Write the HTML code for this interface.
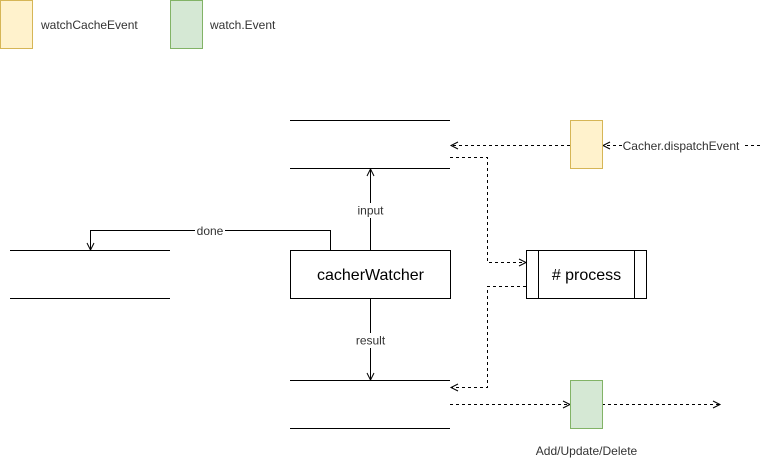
<!DOCTYPE html>
<html><head><meta charset="utf-8"><style>
html,body{margin:0;padding:0;background:#fff;}
svg{display:block;font-family:"Liberation Sans",Arial,sans-serif;}
</style></head><body>
<svg width="769" height="461" viewBox="0 0 769 461" xmlns="http://www.w3.org/2000/svg">
<defs>
<marker id="a" markerWidth="10" markerHeight="10" refX="8" refY="5" orient="auto" markerUnits="userSpaceOnUse">
<path d="M1,1.5 L8,5 L1,8.5" fill="none" stroke="#000" stroke-width="1"/>
</marker>
</defs>
<rect x="0.5" y="0.5" width="32" height="48" fill="#fff2cc" stroke="#d6b656"/>
<text x="41" y="29" font-size="12" fill="#333">watchCacheEvent</text>
<rect x="170.5" y="0.5" width="32" height="48" fill="#d5e8d4" stroke="#82b366"/>
<text x="210" y="29" font-size="12" fill="#333">watch.Event</text>

<g stroke="#000" stroke-width="1" fill="none">
<line x1="290" y1="120.5" x2="450" y2="120.5"/>
<line x1="290" y1="168.5" x2="450" y2="168.5"/>
<line x1="10" y1="250.5" x2="170" y2="250.5"/>
<line x1="10" y1="298.5" x2="170" y2="298.5"/>
<line x1="290" y1="380.5" x2="450" y2="380.5"/>
<line x1="290" y1="428.5" x2="450" y2="428.5"/>
<rect x="290.5" y="250.5" width="160" height="48" fill="#fff"/>
<rect x="526.5" y="250.5" width="120" height="48" fill="#fff"/>
<line x1="538.5" y1="250.5" x2="538.5" y2="298.5"/>
<line x1="634.5" y1="250.5" x2="634.5" y2="298.5"/>
<line x1="370.5" y1="250" x2="370.5" y2="169" marker-end="url(#a)"/>
<line x1="370.5" y1="298" x2="370.5" y2="380" marker-end="url(#a)"/>
<path d="M330.5,250 V230.5 H90.5 V250" marker-end="url(#a)"/>
</g>
<g stroke="#000" stroke-width="1" fill="none" stroke-dasharray="3,3">
<line x1="760" y1="145.5" x2="603" y2="145.5" marker-end="url(#a)"/>
<line x1="570" y1="145.5" x2="451" y2="145.5" marker-end="url(#a)"/>
<path d="M450,157.5 H487.5 V262.5 H526" marker-end="url(#a)"/>
<path d="M526,286.5 H487.5 V387.5 H451" marker-end="url(#a)"/>
<line x1="450" y1="404.5" x2="570" y2="404.5" marker-end="url(#a)"/>
<line x1="602" y1="404.5" x2="720" y2="404.5" marker-end="url(#a)"/>
</g>
<rect x="570.5" y="120.5" width="32" height="48" fill="#fff2cc" stroke="#d6b656"/>
<rect x="570.5" y="380.5" width="32" height="48" fill="#d5e8d4" stroke="#82b366"/>

<rect x="622" y="138" width="120" height="15" fill="#fff"/>
<text x="681" y="150" font-size="12" fill="#333" text-anchor="middle">Cacher.dispatchEvent</text>
<rect x="354" y="203" width="33" height="15" fill="#fff"/>
<text x="370.5" y="214.5" font-size="12" fill="#333" text-anchor="middle">input</text>
<rect x="352" y="333" width="37" height="15" fill="#fff"/>
<text x="370.5" y="344.5" font-size="12" fill="#333" text-anchor="middle">result</text>
<rect x="195" y="224" width="30" height="14" fill="#fff"/>
<text x="210" y="235" font-size="12" fill="#333" text-anchor="middle">done</text>
<text x="370.5" y="280" font-size="16" fill="#000" text-anchor="middle">cacherWatcher</text>
<text x="586.5" y="280" font-size="16" fill="#000" text-anchor="middle"># process</text>
<text x="586.5" y="455" font-size="12" fill="#333" text-anchor="middle">Add/Update/Delete</text>
</svg>
</body></html>
